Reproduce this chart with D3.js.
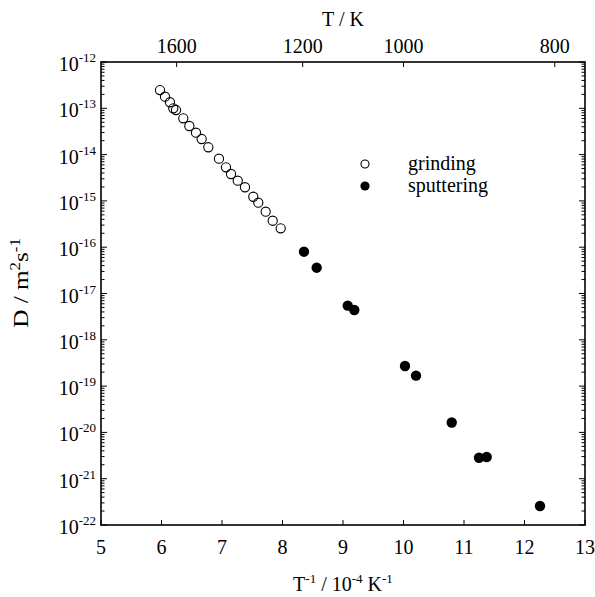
<!DOCTYPE html>
<html>
<head>
<meta charset="utf-8">
<script src="https://cdn.jsdelivr.net/npm/d3@7"></script>
<style>
  body { margin: 0; background: #fff; }
</style>
</head>
<body>
<div id="chart"></div>
<script>
// grinding (open circles): inverse temperature (10^-4 K^-1) and D (m^2/s)
const grindX = [5.975, 6.058, 6.140, 6.195, 6.240, 6.360, 6.460, 6.570, 6.664, 6.774,
                6.950, 7.066, 7.149, 7.260, 7.380, 7.517, 7.600, 7.722, 7.838, 7.970];
const grindD = [2.48e-13, 1.78e-13, 1.35e-13, 1.00e-13, 9.18e-14, 6.08e-14, 4.15e-14, 2.97e-14, 2.17e-14, 1.44e-14,
                8.15e-15, 5.32e-15, 3.81e-15, 2.73e-15, 1.97e-15, 1.23e-15, 9.14e-16, 5.85e-16, 3.73e-16, 2.56e-16];

// sputtering (filled circles)
const sputX = [8.355, 8.565, 9.078, 9.187, 10.025, 10.207, 10.797, 11.248, 11.375, 12.256];
const sputD = [8.0e-17, 3.61e-17, 5.46e-18, 4.41e-18, 2.72e-19, 1.68e-19, 1.64e-20, 2.84e-21, 2.94e-21, 2.57e-22];

const xTicks = [5, 6, 7, 8, 9, 10, 11, 12, 13];
const yExponents = [-12, -13, -14, -15, -16, -17, -18, -19, -20, -21, -22];
const topTempTicks = [1600, 1200, 1000, 800];

const FONT = "'Liberation Serif', 'Times New Roman', Times, 'DejaVu Serif', serif";

const margin = { top: 62, right: 10, bottom: 72, left: 101 };
const width = 595, height = 597;
const visWidth = width - margin.left - margin.right;
const visHeight = height - margin.top - margin.bottom;

const svg = d3.select('#chart').append('svg')
    .attr('width', width)
    .attr('height', height)
    .attr('font-family', FONT)
    .style('font-family', FONT);

const x = d3.scaleLinear().domain([5, 13]).range([0, visWidth]);
const y = d3.scaleLog().domain([1e-22, 1e-12]).range([visHeight, 0]);

const g = svg.append('g')
    .attr('transform', `translate(${margin.left}, ${margin.top})`);

// minor log ticks
const minorVals = [];
for (let e = -22; e < -12; e++) {
    for (let m = 2; m <= 9; m++) minorVals.push(m * Math.pow(10, e));
}
const majorVals = yExponents.map(e => Math.pow(10, e));

const ticks = g.append('g').attr('stroke', '#000').attr('stroke-width', 1);

// left + right y ticks (inward)
[[0, 1], [visWidth, -1]].forEach(([x0, dir]) => {
    ticks.selectAll(null).data(minorVals).join('line')
        .attr('x1', x0).attr('x2', x0 + dir * 3.5)
        .attr('y1', d => y(d)).attr('y2', d => y(d));
    ticks.selectAll(null).data(majorVals).join('line')
        .attr('x1', x0).attr('x2', x0 + dir * 6)
        .attr('y1', d => y(d)).attr('y2', d => y(d));
});

// bottom ticks
ticks.selectAll(null).data(xTicks).join('line')
    .attr('x1', d => x(d)).attr('x2', d => x(d))
    .attr('y1', visHeight).attr('y2', visHeight - 5);

// top ticks at temperatures
ticks.selectAll(null).data(topTempTicks).join('line')
    .attr('x1', d => x(1e4 / d)).attr('x2', d => x(1e4 / d))
    .attr('y1', 0).attr('y2', 5);

// frame
g.append('rect')
    .attr('width', visWidth).attr('height', visHeight)
    .attr('fill', 'none').attr('stroke', '#000').attr('stroke-width', 1.6);

// bottom labels
g.selectAll('.xlab').data(xTicks).join('text')
    .attr('class', 'xlab')
    .attr('x', d => x(d)).attr('y', visHeight + 29)
    .attr('text-anchor', 'middle')
    .style('font-size', '20px')
    .text(d => d);

// top labels
g.selectAll('.tlab').data(topTempTicks).join('text')
    .attr('class', 'tlab')
    .attr('x', d => x(1e4 / d)).attr('y', -9)
    .attr('text-anchor', 'middle')
    .style('font-size', '20px')
    .text(d => d);

// left labels 10^n
const ylab = g.selectAll('.ylab').data(yExponents).join('text')
    .attr('class', 'ylab')
    .attr('x', -5).attr('y', d => y(Math.pow(10, d)) + 9)
    .attr('text-anchor', 'end')
    .style('font-size', '20px');
ylab.append('tspan').text('10');
ylab.append('tspan').attr('dy', -9).style('font-size', '13px').text(d => String(d));

// data points
g.selectAll('.grind').data(grindX).join('circle')
    .attr('class', 'grind')
    .attr('cx', d => x(d)).attr('cy', (d, i) => y(grindD[i]))
    .attr('r', 4.6)
    .attr('fill', 'none').attr('stroke', '#000').attr('stroke-width', 1.1);

g.selectAll('.sput').data(sputX).join('circle')
    .attr('class', 'sput')
    .attr('cx', d => x(d)).attr('cy', (d, i) => y(sputD[i]))
    .attr('r', 5.2)
    .attr('fill', '#000');

// legend
const legend = svg.append('g').attr('transform', 'translate(365, 164)');
legend.append('circle').attr('r', 4).attr('fill', 'none').attr('stroke', '#000').attr('stroke-width', 1.1);
legend.append('circle').attr('cy', 22).attr('r', 4.6).attr('fill', '#000');
legend.append('text').attr('x', 43).attr('y', 6).style('font-size', '20px').text('grinding');
legend.append('text').attr('x', 43).attr('y', 28).style('font-size', '20px').text('sputtering');

// axis titles
svg.append('text')
    .attr('x', margin.left + visWidth / 2).attr('y', 26)
    .attr('text-anchor', 'middle')
    .style('font-size', '20px')
    .text('T / K');

const xt = svg.append('text')
    .attr('x', margin.left + visWidth / 2).attr('y', 591)
    .attr('text-anchor', 'middle')
    .style('font-size', '20px');
xt.append('tspan').text('T');
xt.append('tspan').attr('dy', -8).style('font-size', '13px').text('-1');
xt.append('tspan').attr('dy', 8).text(' / 10');
xt.append('tspan').attr('dy', -8).style('font-size', '13px').text('-4');
xt.append('tspan').attr('dy', 8).text(' K');
xt.append('tspan').attr('dy', -8).style('font-size', '13px').text('-1');

const yt = svg.append('text')
    .attr('transform', `translate(28, 283) rotate(-90) scale(1.2, 1)`)
    .attr('text-anchor', 'middle')
    .style('font-size', '21px');
yt.append('tspan').text('D / m');
yt.append('tspan').attr('dy', -8).style('font-size', '14px').text('2');
yt.append('tspan').attr('dy', 8).text('s');
yt.append('tspan').attr('dy', -8).style('font-size', '14px').text('-1');
</script>
</body>
</html>
